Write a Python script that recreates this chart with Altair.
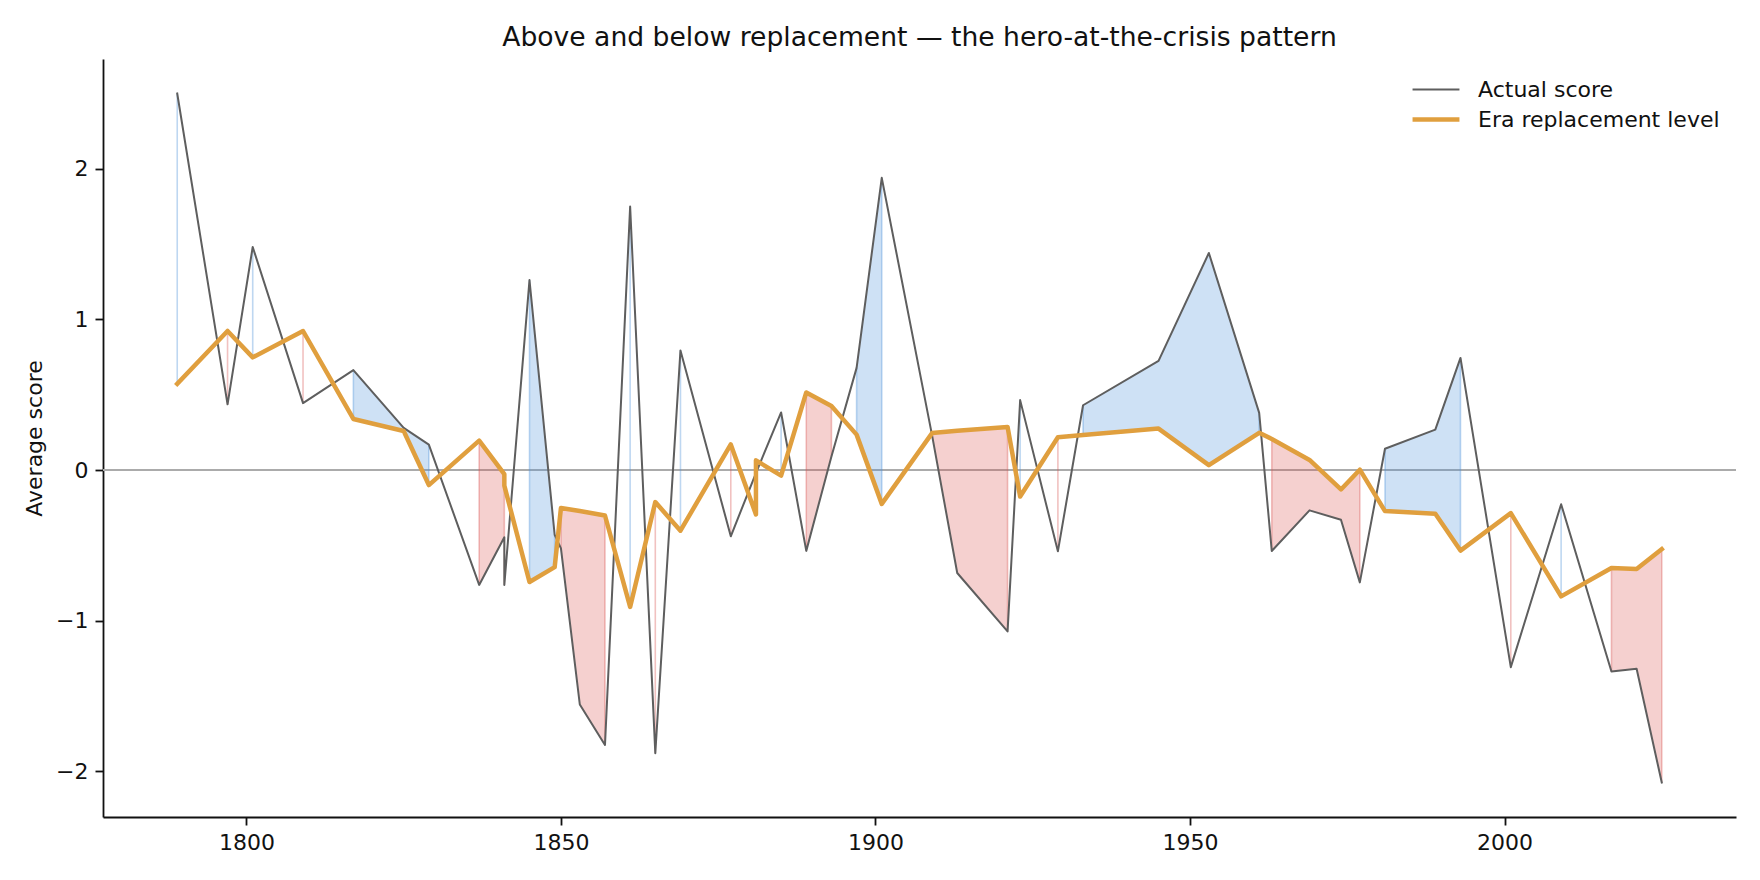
import altair as alt
import numpy as np
import pandas as pd

# ---- data ----
years = [1789, 1797, 1801, 1809, 1817, 1825, 1829, 1837, 1841, 1841, 1845, 1849, 1850,
         1853, 1857, 1861, 1865, 1869, 1877, 1881, 1881, 1885, 1889, 1893, 1897, 1901,
         1909, 1913, 1921, 1923, 1929, 1933, 1945, 1953, 1961, 1963, 1969, 1974, 1977,
         1981, 1989, 1993, 2001, 2009, 2017, 2021, 2025]

actual = [2.50, 0.436, 1.481, 0.444, 0.663, 0.280, 0.169, -0.763, -0.447, -0.763, 1.261,
          -0.430, -0.520, -1.557, -1.826, 1.749, -1.880, 0.794, -0.440, -0.020, -0.020,
          0.382, -0.537, 0.090, 0.678, 1.940, 0.230, -0.684, -1.072, 0.464, -0.540, 0.430,
          0.725, 1.441, 0.379, -0.538, -0.268, -0.330, -0.746, 0.141, 0.268, 0.744, -1.309,
          -0.227, -1.338, -1.320, -2.075]

replacement = [0.572, 0.923, 0.748, 0.923, 0.339, 0.259, -0.100, 0.195, -0.027, -0.104,
               -0.744, -0.645, -0.252, -0.272, -0.302, -0.909, -0.213, -0.403, 0.170,
               -0.295, 0.064, -0.037, 0.515, 0.425, 0.235, -0.225, 0.245, 0.261, 0.286,
               -0.176, 0.217, 0.232, 0.275, 0.032, 0.247, 0.206, 0.067, -0.129, 0.002,
               -0.273, -0.290, -0.535, -0.286, -0.839, -0.651, -0.658, -0.525]

series_names = ["Actual score", "Era replacement level"]
series_colors = ["#5e5e5e", "#e09f3e"]
fill_colors = ["#4a90d9", "#d9534f"]

# ---- derived tables ----
n = len(years)
diff = np.array(actual) - np.array(replacement)
sign = np.where(diff > 0, "above", "below")
run = np.concatenate([[0], np.cumsum(sign[1:] != sign[:-1])])
edge = [bool((i == 0 or sign[i] != sign[i - 1]) or (i == n - 1 or sign[i] != sign[i + 1]))
        for i in range(n)]

df = pd.DataFrame({
    "idx": list(range(n)), "year": years, "actual": actual, "rep": replacement,
    "sign": [str(s) for s in sign], "run": [int(r) for r in run], "edge": edge,
})

long = pd.concat([
    pd.DataFrame({"idx": list(range(n)), "year": years, "value": actual,
                  "series": series_names[0]}),
    pd.DataFrame({"idx": list(range(n)), "year": years, "value": replacement,
                  "series": series_names[1]}),
], ignore_index=True)

FONT = "DejaVu Sans"

xenc = alt.X("year:Q",
             scale=alt.Scale(domain=[1777.2, 2036.8], nice=False, zero=False),
             axis=alt.Axis(values=[1800, 1850, 1900, 1950, 2000], format="d",
                           title=None, grid=False))
yscale = alt.Scale(domain=[-2.304, 2.729], nice=False, zero=False)
yaxis = alt.Axis(values=[-2, -1, 0, 1, 2], title="Average score", grid=False)

fillcolor = alt.Color("sign:N",
                      scale=alt.Scale(domain=["above", "below"], range=fill_colors),
                      legend=None)

zero = alt.Chart(df).mark_rule(color="#ababab", strokeWidth=1.6).encode(
    y=alt.Y(datum=0, scale=yscale, axis=yaxis)
)

area = alt.Chart(df).mark_area(fillOpacity=0.27, orient="vertical",
                               interpolate="linear").encode(
    x=xenc,
    y=alt.Y("actual:Q", scale=yscale, axis=yaxis),
    y2=alt.Y2("rep"),
    color=fillcolor,
    detail="run:N",
)

edges = alt.Chart(df).transform_filter("datum.edge").mark_rule(
    strokeWidth=1.6, opacity=0.36
).encode(
    x=xenc,
    y=alt.Y("actual:Q", scale=yscale, axis=yaxis),
    y2=alt.Y2("rep"),
    color=fillcolor,
)

leg = alt.Legend(title=None, orient="top-right", labelFontSize=22, labelFont=FONT,
                 labelColor="#111111", symbolType="stroke", symbolSize=2200,
                 labelOffset=16, rowPadding=1, clipHeight=29, offset=16, labelLimit=0)

lines = alt.Chart(long).mark_line(strokeJoin="round", strokeCap="square").encode(
    x=xenc,
    y=alt.Y("value:Q", scale=yscale, axis=yaxis),
    stroke=alt.Stroke("series:N",
                      scale=alt.Scale(domain=series_names, range=series_colors),
                      legend=leg),
    strokeWidth=alt.StrokeWidth("series:N",
                                scale=alt.Scale(domain=series_names, range=[2.0, 4.5]),
                                legend=leg),
    order="idx:Q",
)

chart = alt.layer(zero, area, edges, lines).properties(
    width=1633,
    height=758,
    autosize=alt.AutoSizeParams(type="none"),
    padding={"left": 95, "top": 51, "right": 16, "bottom": 50},
    title=alt.TitleParams(
        "Above and below replacement \u2014 the hero-at-the-crisis pattern",
        font=FONT, fontSize=26.6, fontWeight="normal", color="#111111",
        anchor="middle", offset=7,
    ),
).configure_axis(
    labelFont=FONT, labelFontSize=22, labelColor="#111111",
    titleFont=FONT, titleFontSize=22, titleFontWeight="normal", titleColor="#111111",
    tickSize=8, tickWidth=1.8, tickColor="#111111",
    domainWidth=1.8, domainColor="#111111",
    labelPadding=7, titlePadding=9,
).configure_view(strokeWidth=0)

chart.save("out.html", embed_options={"renderer": "svg", "actions": False})
